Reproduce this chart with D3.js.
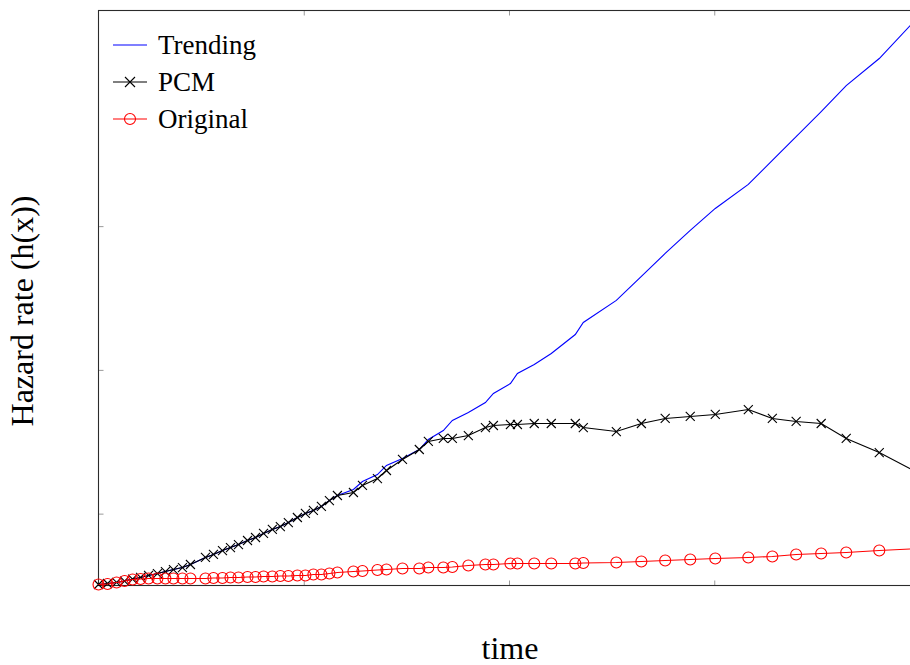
<!DOCTYPE html>
<html>
<head>
<meta charset="utf-8">
<script src="https://cdn.jsdelivr.net/npm/d3@7"></script>
<style>
  html, body { margin: 0; padding: 0; background: #fff; }
  svg { display: block; }
</style>
</head>
<body>
<svg id="chart" width="910" height="665"></svg>
<script>
// Observation times shared by all three series
const times = [0, 0.44, 0.88, 1.27, 1.66, 2.05, 2.44, 2.87, 3.26, 3.65, 4.09, 4.48,
  5.21, 5.60, 6.04, 6.43, 6.82, 7.26, 7.65, 8.04, 8.47, 8.86, 9.25, 9.69, 10.08,
  10.47, 10.86, 11.25, 11.64, 12.42, 12.86, 13.59, 14.03, 14.81, 15.63, 16.07,
  16.80, 17.24, 18.02, 18.85, 19.24, 20.07, 20.41, 21.23, 22.06, 23.23, 23.62,
  25.23, 26.45, 27.61, 28.83, 30.05, 31.66, 32.83, 33.99, 35.21, 36.43, 38.04, 40.0];

// Hazard rate estimates
const trending = [5.07, 5.14, 5.21, 5.31, 5.45, 5.56, 5.70, 5.83, 5.97, 6.11, 6.25, 6.46,
  6.95, 7.16, 7.43, 7.64, 7.85, 8.13, 8.34, 8.62, 8.90, 9.10, 9.38, 9.73, 10.01,
  10.22, 10.50, 10.91, 11.26, 11.68, 12.23, 12.72, 13.35, 13.83, 14.46, 15.16,
  15.78, 16.48, 17.03, 17.73, 18.36, 19.05, 19.75, 20.37, 21.14, 22.46, 23.30,
  24.83, 26.50, 28.10, 29.70, 31.23, 32.90, 34.57, 36.23, 37.97, 39.78, 41.66, 44.65];

const pcm = [5.07, 5.14, 5.21, 5.31, 5.45, 5.56, 5.70, 5.83, 5.97, 6.11, 6.25, 6.46,
  6.95, 7.16, 7.43, 7.64, 7.85, 8.13, 8.34, 8.62, 8.90, 9.10, 9.38, 9.73, 10.01,
  10.22, 10.50, 10.91, 11.26, 11.47, 11.96, 12.44, 13.00, 13.77, 14.46, 15.02,
  15.23, 15.23, 15.43, 15.99, 16.13, 16.20, 16.20, 16.27, 16.27, 16.27, 15.99,
  15.71, 16.27, 16.62, 16.76, 16.90, 17.24, 16.62, 16.41, 16.27, 15.23, 14.25, 12.79];

const original = [5.07, 5.10, 5.21, 5.31, 5.42, 5.45, 5.49, 5.49, 5.49, 5.49, 5.49, 5.49,
  5.49, 5.52, 5.52, 5.56, 5.56, 5.59, 5.59, 5.63, 5.63, 5.66, 5.66, 5.70, 5.70,
  5.77, 5.77, 5.83, 5.90, 5.97, 6.01, 6.08, 6.11, 6.18, 6.18, 6.25, 6.25, 6.29,
  6.39, 6.46, 6.46, 6.53, 6.53, 6.53, 6.53, 6.53, 6.57, 6.60, 6.67, 6.74, 6.81,
  6.88, 6.95, 7.02, 7.16, 7.23, 7.30, 7.43, 7.57];

const xTicks = [10, 20, 30];
const yTicks = [10, 20, 30];
const seriesNames = ["Trending", "PCM", "Original"];

const serif = "'Liberation Serif', 'DejaVu Serif', 'Times New Roman', serif";

const svg = d3.select("#chart");
const plotLeft = 98.5, plotRight = 919.5, plotTop = 10.5, plotBottom = 585.5;

const x = d3.scaleLinear().domain([0, 40]).range([plotLeft, plotRight]);
const y = d3.scaleLinear().domain([5, 45]).range([plotBottom, plotTop]);

// Tick marks (no labels), inward on all four sides
const tickLen = 5;
const axisG = svg.append("g");
axisG.append("g").attr("transform", `translate(0,${plotBottom})`)
  .call(d3.axisBottom(x).tickValues(xTicks).tickSize(-tickLen).tickFormat(""));
axisG.append("g").attr("transform", `translate(0,${plotTop})`)
  .call(d3.axisTop(x).tickValues(xTicks).tickSize(-tickLen).tickFormat(""));
axisG.append("g").attr("transform", `translate(${plotLeft},0)`)
  .call(d3.axisLeft(y).tickValues(yTicks).tickSize(-tickLen).tickFormat(""));
axisG.append("g").attr("transform", `translate(${plotRight},0)`)
  .call(d3.axisRight(y).tickValues(yTicks).tickSize(-tickLen).tickFormat(""));
axisG.selectAll(".domain").remove();
axisG.selectAll("line").attr("stroke", "#9a9a9a").attr("stroke-width", 1);

// Axis frame
svg.append("rect")
  .attr("x", plotLeft).attr("y", plotTop)
  .attr("width", plotRight - plotLeft).attr("height", plotBottom - plotTop)
  .attr("fill", "none").attr("stroke", "#2b2b2b").attr("stroke-width", 1.1);

const line = d3.line().x((d, i) => x(times[i])).y(d => y(d));

// Trending curve
svg.append("path").datum(trending)
  .attr("fill", "none").attr("stroke", "#0000ff").attr("stroke-width", 1.1)
  .attr("d", line);

// PCM curve with cross markers
svg.append("path").datum(pcm)
  .attr("fill", "none").attr("stroke", "#000").attr("stroke-width", 1.1)
  .attr("d", line);

const crossPath = s => `M${-s},${-s}L${s},${s}M${-s},${s}L${s},${-s}`;
svg.append("g").selectAll("path").data(pcm).join("path")
  .attr("transform", (d, i) => `translate(${x(times[i])},${y(d)})`)
  .attr("d", crossPath(4.5))
  .attr("fill", "none").attr("stroke", "#000").attr("stroke-width", 1.1);

// Original curve with circle markers
svg.append("path").datum(original)
  .attr("fill", "none").attr("stroke", "#ff0000").attr("stroke-width", 1.1)
  .attr("d", line);
svg.append("g").selectAll("circle").data(original).join("circle")
  .attr("cx", (d, i) => x(times[i]))
  .attr("cy", d => y(d))
  .attr("r", 5.5)
  .attr("fill", "none").attr("stroke", "#ff0000").attr("stroke-width", 1.1);

// Legend
const legend = svg.append("g");
const rows = [45, 82, 119];
const colors = ["#0000ff", "#000", "#ff0000"];
seriesNames.forEach((name, i) => {
  const ly = rows[i];
  legend.append("line")
    .attr("x1", 113).attr("x2", 147).attr("y1", ly).attr("y2", ly)
    .attr("stroke", colors[i]).attr("stroke-width", 1.1);
  if (i === 1) {
    legend.append("path").attr("transform", `translate(130,${ly})`)
      .attr("d", crossPath(5)).attr("fill", "none")
      .attr("stroke", "#000").attr("stroke-width", 1.1);
  }
  if (i === 2) {
    legend.append("circle").attr("cx", 130).attr("cy", ly).attr("r", 5.5)
      .attr("fill", "none").attr("stroke", "#ff0000").attr("stroke-width", 1.1);
  }
  legend.append("text")
    .attr("x", 158).attr("y", ly + 8.5)
    .attr("font-family", serif)
    .attr("font-size", 27)
    .text(name);
});

// Axis titles
svg.append("text")
  .attr("x", 510).attr("y", 659)
  .attr("text-anchor", "middle")
  .attr("font-family", serif)
  .attr("font-size", 32)
  .text("time");

svg.append("text")
  .attr("transform", "translate(33,311) rotate(-90)")
  .attr("text-anchor", "middle")
  .attr("font-family", serif)
  .attr("font-size", 32)
  .text("Hazard rate (h(x))");
</script>
</body>
</html>
